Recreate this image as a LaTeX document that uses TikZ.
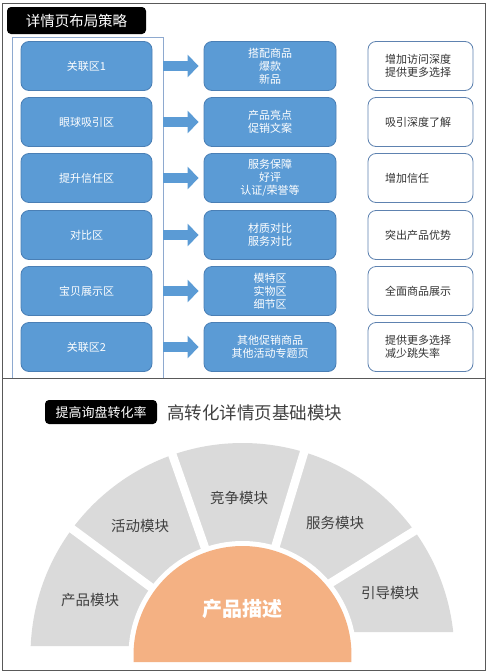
\documentclass[tikz,border=0pt]{standalone}
\usepackage{fontspec}
\setmainfont{Noto Sans CJK SC}
\usetikzlibrary{arrows.meta}
\definecolor{blueF}{HTML}{5B9BD5}
\definecolor{blueB}{HTML}{4A7FB5}
\definecolor{rimB}{HTML}{5E82B0}
\definecolor{innerB}{HTML}{8EA9CF}
\definecolor{frameC}{HTML}{595959}
\definecolor{txt}{HTML}{333333}
\definecolor{fanTxt}{HTML}{404040}
\definecolor{fanGray}{HTML}{DADADA}
\definecolor{orangeF}{HTML}{F4B183}
\begin{document}
\begin{tikzpicture}[x=1pt,y=-1pt,
  lbox/.style={draw=blueB, fill=blueF, rounded corners=8pt, minimum width=131pt,
    minimum height=49pt, text=white, font=\fontsize{11}{13}\selectfont,
    align=center, inner sep=0pt, line width=0.8pt},
  mbox/.style={lbox, minimum width=132pt},
  rbox/.style={draw=rimB, fill=white, rounded corners=8pt, minimum height=49pt,
    text width=71pt, inner xsep=17pt, inner ysep=0pt, align=left, text=txt,
    font=\fontsize{11}{13}\selectfont, line width=0.8pt},
  bigarrow/.style={draw=blueF, line width=10pt,
    -{Triangle[width=22pt,length=11pt]}, shorten <=11pt, shorten >=5pt},
  blackbox/.style={fill=black, rounded corners=4pt, text=white, inner sep=0pt},
  fanlabel/.style={text=fanTxt, font=\fontsize{14.5}{16}\selectfont, inner sep=0pt},
  frame/.style={draw=frameC, line width=1pt}
]
\useasboundingbox (0,0) rectangle (490,672);

% ---------- top panel ----------
\draw[innerB, line width=0.8pt] (12,37) rectangle (163,378);

\node[blackbox, minimum width=139pt, minimum height=27pt,
  font=\fontsize{14.5}{16}\selectfont] (t1) at (76.5,20.5) {详情页布局策略};

\foreach \i/\y/\l/\m/\r in {
  1/66/关联区1/{搭配商品\\爆款\\新品}/{增加访问深度\\提供更多选择},
  2/122/眼球吸引区/{产品亮点\\促销文案}/{吸引深度了解},
  3/178/提升信任区/{服务保障\\好评\\认证/荣誉等}/{增加信任},
  4/235/对比区/{材质对比\\服务对比}/{突出产品优势},
  5/291/宝贝展示区/{模特区\\实物区\\细节区}/{全面商品展示},
  6/347/关联区2/{其他促销商品\\其他活动专题页}/{提供更多选择\\减少跳失率}}{
  \node[lbox] (L\i) at (86.5,\y) {\l};
  \node[mbox] (M\i) at (270,\y) {\m};
  \node[rbox] (R\i) at (420.5,\y) {\r};
  \draw[bigarrow] (L\i.east) -- (M\i.west);
}

% ---------- bottom panel ----------
\node[blackbox, minimum width=112pt, minimum height=24pt,
  font=\fontsize{13}{15}\selectfont] (t2) at (101,412) {提高询盘转化率};
\node[anchor=west, inner sep=0pt, text=fanTxt,
  font=\fontsize{17.5}{20}\selectfont] (t3) at (167,413) {高转化详情页基础模块};

\begin{scope}[shift={(242.5,655)}, y=1pt]
  \fill[fanGray] (177.57:212) arc[start angle=177.57, end angle=6.23, radius=212]
     -- (0,23) -- (0,9) -- cycle;
  \foreach \a in {143.5,109.3,73.1}
    \draw[white, line width=8.5pt] (0,0) -- (\a:225);
\end{scope}
\coordinate (g1) at (432,520);
\coordinate (g2) at (300,602);
\draw[white, line width=8.5pt] (g1) -- (g2);
\begin{scope}[shift={(242.5,655)}, y=1pt]
  \fill[white] (0,0) circle[radius=114];
  \fill[orangeF] (-3.68:109) arc[start angle=-3.68, end angle=183.68, radius=109] -- cycle;
\end{scope}

\node[fanlabel] (f1) at (90,600) {产品模块};
\node[fanlabel] (f2) at (140,526) {活动模块};
\node[fanlabel] (f3) at (239,498) {竞争模块};
\node[fanlabel] (f4) at (335,523) {服务模块};
\node[fanlabel] (f5) at (390,593) {引导模块};
\node[text=white, inner sep=0pt, font=\fontsize{20}{22}\selectfont\bfseries] (f0) at (242,609) {产品描述};

% ---------- frames ----------
\draw[frame] (2,3) rectangle (485,378);
\draw[frame] (2,378) rectangle (485,670);
\end{tikzpicture}
\end{document}
